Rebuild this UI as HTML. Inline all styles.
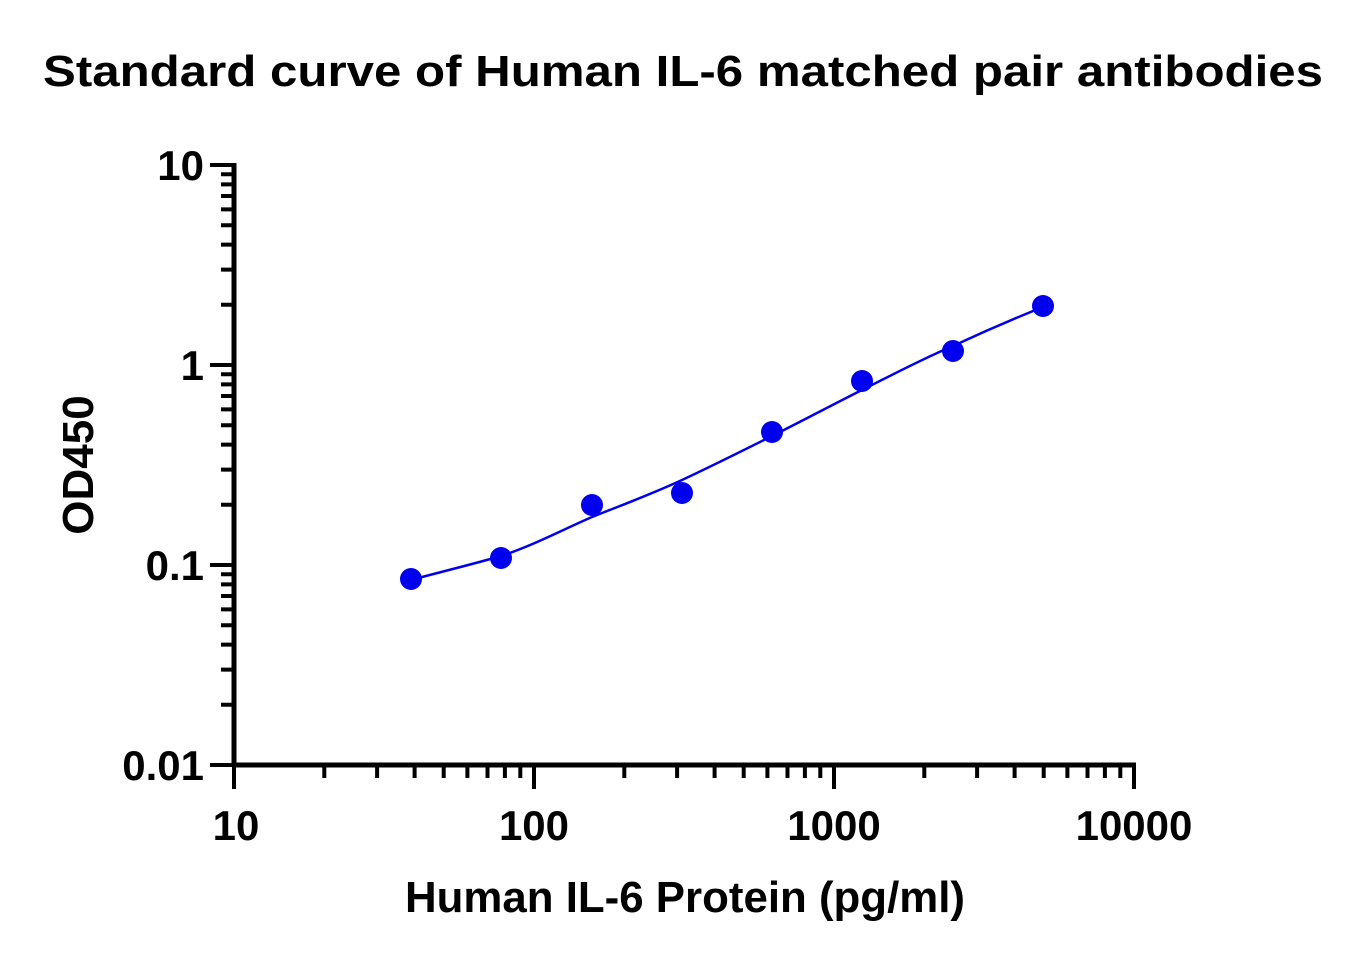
<!DOCTYPE html>
<html><head><style>body{margin:0;background:#fff}svg{display:block}text{font-family:"Liberation Sans",Arial,sans-serif;font-weight:bold;fill:#000}</style></head>
<body>
<svg width="1368" height="966" viewBox="0 0 1368 966" xmlns="http://www.w3.org/2000/svg">
<text x="683" y="86" font-size="44" text-anchor="middle" textLength="1280" lengthAdjust="spacingAndGlyphs">Standard curve of Human IL-6 matched pair antibodies</text>
<g stroke="#000" stroke-width="5" fill="none">
<line x1="234" y1="163" x2="234" y2="767"/>
<line x1="232" y1="765" x2="1136" y2="765"/>
</g>
<g stroke="#000" stroke-width="4">
<line x1="210" y1="165" x2="234" y2="165"/><line x1="210" y1="365" x2="234" y2="365"/><line x1="210" y1="565" x2="234" y2="565"/><line x1="210" y1="765" x2="234" y2="765"/>
<path d="M221 704.8H234M221 669.6H234M221 644.6H234M221 625.2H234M221 609.4H234M221 596H234M221 584.4H234M221 574.2H234
M221 504.8H234M221 469.6H234M221 444.6H234M221 425.2H234M221 409.4H234M221 396H234M221 384.4H234M221 374.2H234
M221 304.8H234M221 269.6H234M221 244.6H234M221 225.2H234M221 209.4H234M221 196H234M221 184.4H234M221 174.2H234"/>
<line x1="234" y1="765" x2="234" y2="789"/><line x1="534" y1="765" x2="534" y2="789"/><line x1="834" y1="765" x2="834" y2="789"/><line x1="1134" y1="765" x2="1134" y2="789"/>
<path d="M324.3 765V778M377.1 765V778M414.6 765V778M443.7 765V778M467.4 765V778M487.5 765V778M504.9 765V778M520.3 765V778
M624.3 765V778M677.1 765V778M714.6 765V778M743.7 765V778M767.4 765V778M787.5 765V778M804.9 765V778M820.3 765V778
M924.3 765V778M977.1 765V778M1014.6 765V778M1043.7 765V778M1067.4 765V778M1087.5 765V778M1104.9 765V778M1120.3 765V778"/>
</g>
<g font-size="42" text-anchor="end">
<text x="204" y="180">10</text><text x="204" y="380">1</text><text x="204" y="580">0.1</text><text x="204" y="780">0.01</text>
</g>
<g font-size="42" text-anchor="middle">
<text x="236" y="840">10</text><text x="534" y="840">100</text><text x="834" y="840">1000</text><text x="1134" y="840">10000</text>
</g>
<text x="685" y="912" font-size="44" text-anchor="middle" textLength="560" lengthAdjust="spacingAndGlyphs">Human IL-6 Protein (pg/ml)</text>
<text transform="translate(93,465) rotate(-90)" font-size="44" text-anchor="middle">OD450</text>
<path d="M411 580 C440 572 470 565 501 556 C532 546 562 530 592 517 C622 505 652 494 682 480 C712 466 742 451 772 436 C802 421 832 405 862 390 C892 375 922 359 953 346 C983 332 1013 319 1043 307" stroke="#0000ee" stroke-width="2.5" fill="none"/>
<g fill="#0000ee">
<circle cx="411" cy="579" r="11"/><circle cx="501" cy="558" r="11"/><circle cx="592" cy="505" r="11"/><circle cx="682" cy="493" r="11"/><circle cx="772" cy="432" r="11"/><circle cx="862" cy="381" r="11"/><circle cx="953" cy="351" r="11"/><circle cx="1043" cy="306" r="11"/>
</g>
</svg>
</body></html>
